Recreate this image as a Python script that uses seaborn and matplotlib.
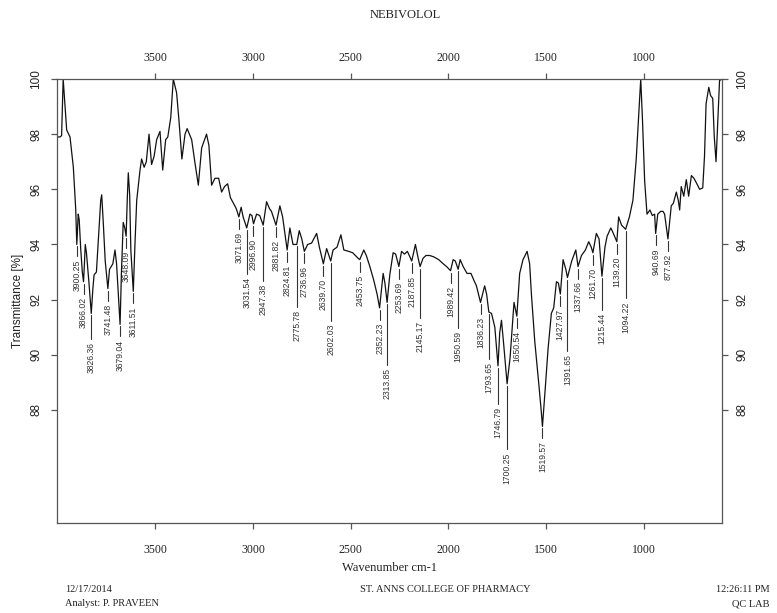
import numpy as np
import pandas as pd
import seaborn as sns
import matplotlib
matplotlib.use("Agg")
import matplotlib.pyplot as plt

# IR spectrum of nebivolol: wavenumber (cm-1) vs transmittance (%)
wavenumber = [
    4000, 3985, 3978, 3970, 3962, 3952, 3935, 3918, 3906, 3900.25,
    3893, 3888, 3880, 3872, 3866.02, 3862, 3857, 3851, 3838, 3826.36,
    3818, 3812, 3800, 3790, 3778, 3773, 3765, 3755, 3741.48, 3733,
    3716, 3705, 3697, 3688, 3679.04, 3672, 3663, 3655, 3648.09, 3642,
    3637, 3630, 3624, 3611.51, 3603, 3594, 3577, 3569, 3556, 3545,
    3531, 3518, 3505, 3492, 3475, 3461, 3446, 3435, 3420, 3407,
    3390, 3378, 3363, 3347, 3336, 3313, 3296, 3279, 3262, 3237,
    3225, 3211, 3194, 3175, 3160, 3145, 3129, 3115, 3100, 3085,
    3071.69, 3060, 3050, 3031.54, 3015, 3005, 2996.90, 2981, 2965, 2947.38,
    2930, 2915, 2905, 2881.82, 2862, 2848, 2824.81, 2811, 2795, 2775.78,
    2763, 2750, 2736.96, 2720, 2700, 2674, 2660, 2639.70, 2623, 2602.03,
    2590, 2570, 2550, 2535, 2510, 2490, 2462, 2453.75, 2433, 2420,
    2402, 2382, 2365, 2352.23, 2334, 2325, 2313.85, 2300, 2283, 2270,
    2253.69, 2240, 2225, 2210, 2187.85, 2169, 2155, 2145.17, 2130, 2115,
    2096, 2075, 2050, 2027, 2010, 1989.42, 1976, 1965, 1950.59, 1940,
    1925, 1905, 1885, 1870, 1857, 1836.23, 1815, 1805, 1793.65, 1780,
    1763, 1746.79, 1738, 1729, 1718, 1700.25, 1685, 1665, 1650.54, 1636,
    1619, 1598, 1585, 1576, 1559, 1537, 1525, 1519.57, 1505, 1491,
    1474, 1462, 1448, 1438, 1427.97, 1414, 1400, 1391.65, 1370, 1349,
    1337.66, 1320, 1300, 1283, 1270, 1261.70, 1244, 1230, 1215.44, 1200,
    1189, 1170, 1160, 1139.20, 1130, 1115, 1094.22, 1075, 1057, 1040,
    1026, 1017, 1008, 997, 985, 970, 958, 946, 940.69, 930,
    915, 903, 895, 877.92, 861, 850, 835, 825, 818, 810,
    797, 784, 772, 758, 745, 730, 716, 700, 691, 683,
    669, 660, 649, 641, 632, 624, 614, 600,
]
transmittance = [
    97.9, 97.9, 97.95, 100.0, 99.2, 98.15, 97.9, 96.8, 95.3, 94.0,
    95.1, 94.9, 93.8, 93.0, 92.65, 93.2, 94.0, 93.7, 92.6, 91.5,
    92.4, 92.9, 93.0, 94.2, 95.6, 95.8, 94.8, 93.4, 92.4, 93.1,
    93.3, 93.8, 93.3, 92.2, 91.1, 93.0, 94.8, 94.6, 94.3, 95.7,
    96.6, 95.8, 93.8, 92.3, 94.0, 95.6, 96.7, 97.1, 96.8, 97.0,
    98.0, 96.9, 97.2, 97.8, 98.1, 96.7, 97.8, 97.9, 98.6, 100.0,
    99.5, 98.5, 97.1, 98.0, 98.2, 97.8, 96.95, 96.15, 97.5, 98.0,
    97.6, 96.15, 96.4, 96.4, 95.9, 96.1, 96.2, 95.7, 95.5, 95.3,
    95.0, 95.35, 95.0, 94.6, 95.1, 95.05, 94.75, 95.1, 95.05, 94.7,
    95.55, 95.3, 95.2, 94.7, 95.4, 95.0, 93.8, 94.6, 94.0, 94.0,
    94.5, 94.2, 93.75, 94.0, 94.05, 94.4, 93.9, 93.3, 93.85, 93.4,
    93.8, 93.9, 94.35, 93.8, 93.75, 93.7, 93.5, 93.45, 93.8, 93.6,
    93.2, 92.7, 92.2, 91.7, 92.95, 92.6, 91.9, 92.9, 93.7, 93.65,
    93.2, 93.75, 93.65, 93.75, 93.4, 94.0, 93.5, 93.2, 93.5, 93.6,
    93.6, 93.55, 93.45, 93.3, 93.2, 93.05, 93.45, 93.4, 93.1, 93.45,
    93.2, 92.95, 92.95, 92.7, 92.5, 91.9, 92.5, 92.2, 91.55, 91.5,
    91.0, 89.6, 90.8, 91.25, 90.4, 88.95, 89.9, 91.9, 91.4, 92.95,
    93.45, 93.75, 93.3, 92.2, 90.5, 88.85, 87.9, 87.4, 88.8, 90.2,
    91.5, 91.7, 92.65, 92.6, 92.2, 93.45, 93.1, 92.8, 93.4, 93.8,
    93.2, 93.6, 93.8, 94.1, 93.9, 93.7, 94.4, 94.2, 92.85, 93.9,
    94.3, 94.6, 94.45, 94.1, 95.0, 94.7, 94.55, 95.0, 95.6, 97.1,
    98.9, 100.0, 98.5, 96.3, 95.1, 95.25, 95.05, 95.1, 94.4, 95.1,
    95.2, 95.2, 95.1, 94.2, 95.4, 95.5, 95.9, 95.6, 95.25, 96.1,
    95.75, 96.35, 95.75, 96.5, 96.4, 96.2, 96.0, 96.05, 97.2, 99.1,
    99.7, 99.4, 99.3, 97.9, 97.0, 98.3, 99.95, 100.0,
]

# Picked band positions (cm-1)
peak_wavenumbers = [
    3900.25, 3866.02, 3826.36, 3741.48, 3679.04, 3648.09, 3611.51,
    3071.69, 3031.54, 2996.90, 2947.38, 2881.82, 2824.81, 2775.78,
    2736.96, 2639.70, 2602.03, 2453.75, 2352.23, 2313.85, 2253.69,
    2187.85, 2145.17, 1989.42, 1950.59, 1836.23, 1793.65, 1746.79,
    1700.25, 1650.54, 1519.57, 1427.97, 1391.65, 1337.66, 1261.70,
    1215.44, 1139.20, 1094.22, 940.69, 877.92,
]

x_ticks = [3500, 3000, 2500, 2000, 1500, 1000]
y_ticks = [88, 90, 92, 94, 96, 98, 100]

title = "NEBIVOLOL"
x_label = "Wavenumber cm-1"
y_label = "Transmittance [%]"
footer_left = ["12/17/2014", "Analyst: P. PRAVEEN"]
footer_center = "ST. ANNS COLLEGE OF PHARMACY"
footer_right = ["12:26:11 PM", "QC LAB"]

sns.set_style("ticks")
SERIF = ["Liberation Serif", "DejaVu Serif"]
SANS = ["Liberation Sans", "DejaVu Sans"]
INK = "#222222"
SPINE = "#555555"

W, H = 777, 613
fig = plt.figure(figsize=(W / 100, H / 100), dpi=100)
fig.patch.set_facecolor("white")
left, right, top, bottom = 57.3, 722.3, 79.0, 523.0
ax = fig.add_axes([left / W, 1 - bottom / H, (right - left) / W, (bottom - top) / H])

spectrum = pd.DataFrame({"wavenumber": wavenumber, "transmittance": transmittance})
sns.lineplot(data=spectrum, x="wavenumber", y="transmittance", ax=ax,
             color="#111111", linewidth=0.9, estimator=None, sort=False)

ax.set_xlim(4000, 600)
ax.set_ylim(83.9, 100.0)
ax.set_xlabel("")

for s in ax.spines.values():
    s.set_visible(True)
    s.set_color(SPINE)
    s.set_linewidth(0.9)

# bottom / left axes
ax.set_xticks(x_ticks)
ax.set_xticklabels([str(v) for v in x_ticks], family=SERIF, fontsize=8.5, color=INK)
ax.set_yticks(y_ticks)
ax.set_yticklabels([str(v) for v in y_ticks], family=SANS, fontsize=8.5,
                   color=INK, rotation=90, va="center")
ax.tick_params(axis="x", direction="out", length=4, width=0.9, color=SPINE, pad=11)
ax.tick_params(axis="y", direction="out", length=4, width=0.9, color=SPINE, pad=7)

# mirrored top / right axes
top_ax = ax.secondary_xaxis("top")
top_ax.set_xticks(x_ticks)
top_ax.set_xticklabels([str(v) for v in x_ticks], family=SERIF, fontsize=8.5, color=INK)
top_ax.tick_params(direction="out", length=4, width=0.9, color=SPINE, pad=7)
top_ax.spines["top"].set_visible(False)

right_ax = ax.secondary_yaxis("right")
right_ax.set_yticks(y_ticks)
right_ax.set_yticklabels([str(v) for v in y_ticks], family=SANS, fontsize=8.5,
                         color=INK, rotation=90, va="center")
right_ax.tick_params(direction="out", length=4, width=0.9, color=SPINE, pad=6)
right_ax.spines["right"].set_visible(False)

ax.set_ylabel(y_label, family=SANS, fontsize=8.5, color=INK, labelpad=4)

# titles and footer
fig.text(405 / W, 1 - 15 / H, title, family=SERIF, fontsize=9, color=INK, ha="center", va="center")
fig.text(390 / W, 1 - 568 / H, x_label, family=SERIF, fontsize=9, color=INK, ha="center", va="center")
fig.text(65 / W, 1 - 590 / H, footer_left[0], family=SERIF, fontsize=7.5, color=INK, ha="left", va="center")
fig.text(65 / W, 1 - 604 / H, footer_left[1], family=SERIF, fontsize=7.5, color=INK, ha="left", va="center")
fig.text(445 / W, 1 - 590 / H, footer_center, family=SERIF, fontsize=7.5, color=INK, ha="center", va="center")
fig.text(770 / W, 1 - 590 / H, footer_right[0], family=SERIF, fontsize=7.5, color=INK, ha="right", va="center")
fig.text(770 / W, 1 - 604 / H, footer_right[1], family=SERIF, fontsize=7.5, color=INK, ha="right", va="center")

# band labels: vertical text under each band, pushed down past neighbours that would collide
fig.canvas.draw()
renderer = fig.canvas.get_renderer()
to_px = ax.transData
to_data = ax.transData.inverted()
wn_asc = np.array(wavenumber)[::-1]
tr_asc = np.array(transmittance)[::-1]
placed = []
LABEL_W = 10.8
for wn in peak_wavenumbers:
    t_val = float(np.interp(wn, wn_asc, tr_asc))
    px, py = to_px.transform((wn, t_val))
    txt = ax.text(wn, t_val, f"{wn:.2f}", rotation=90, ha="center", va="top",
                  fontsize=6.2, family=SANS, color="#333333")
    length = txt.get_window_extent(renderer).height
    text_top = py - 15
    moved = True
    while moved:
        moved = False
        for bx, btop, bbot in placed:
            if abs(bx - px) < LABEL_W and text_top > bbot - 3 and text_top - length < btop + 3:
                text_top = bbot - 14
                moved = True
    placed.append((px, text_top, text_top - length))
    y_text = to_data.transform((px, text_top))[1]
    y_line0 = to_data.transform((px, py - 2))[1]
    y_line1 = to_data.transform((px, text_top + 3))[1]
    txt.set_position((wn, y_text))
    ax.plot([wn, wn], [y_line0, y_line1], color="#333333", linewidth=0.8, clip_on=False)

fig.savefig("out.png", dpi=100)
